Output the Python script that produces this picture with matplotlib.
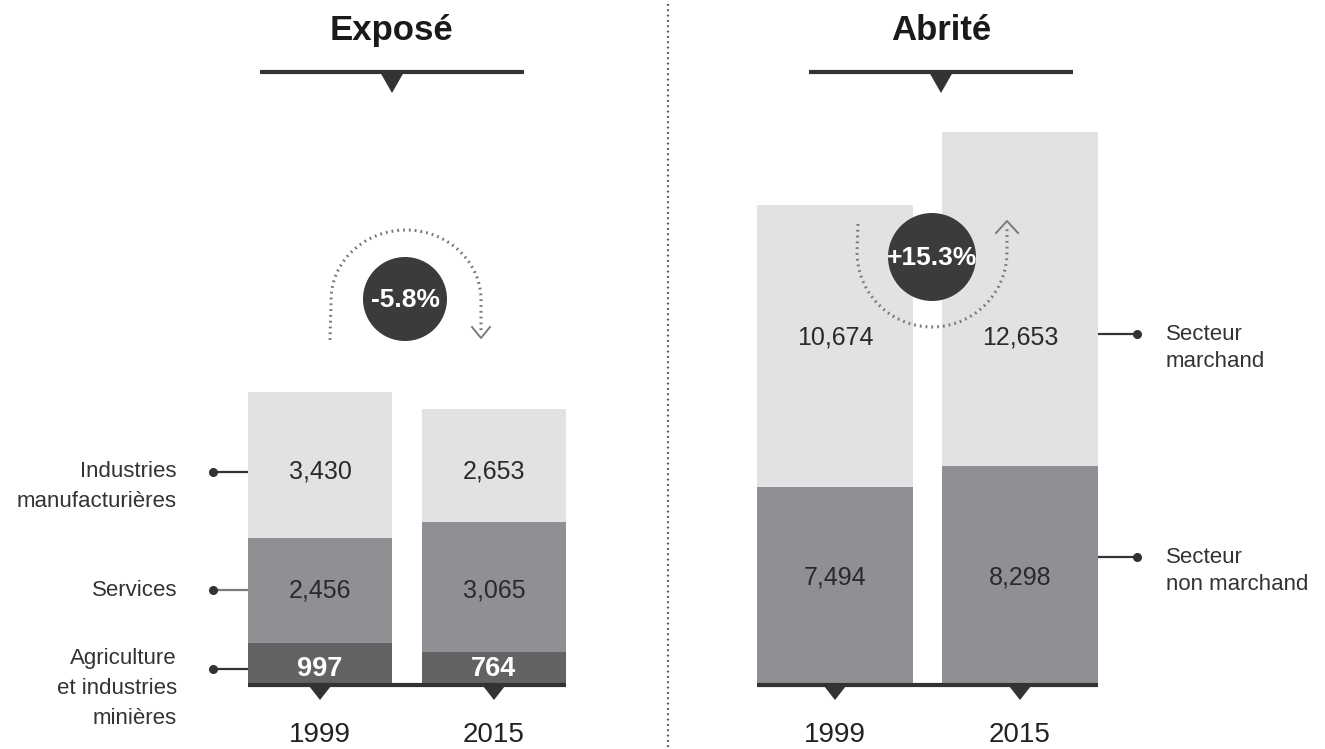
import numpy as np
import matplotlib
matplotlib.use("Agg")
import matplotlib.pyplot as plt
from matplotlib.patches import Circle, Polygon

plt.rcParams['font.family'] = ['Liberation Sans', 'DejaVu Sans']

# data
years = ['1999', '2015']
expose_agri = [997, 764]
expose_services = [2456, 3065]
expose_industries = [3430, 2653]
expose_labels = ['Agriculture\net industries\nminières', 'Services', 'Industries\nmanufacturières']
expose_change = '-5.8%'

abrite_non_marchand = [7494, 8298]
abrite_marchand = [10674, 12653]
abrite_labels = ['Secteur\nnon marchand', 'Secteur\nmarchand']
abrite_change = '+15.3%'

LIGHT = '#e1e2e4'
MID = '#8f9094'
DARK = '#636366'
INK = '#333333'
BADGE = '#3b3b3d'
DOTS = '#7a7a7a'

W, H = 1325, 749
BASE = 685
fig = plt.figure(figsize=(W / 100, H / 100), dpi=100)

# overlay in pixel coordinates (y downwards) for decorations
ov = fig.add_axes([0, 0, 1, 1], zorder=5)
ov.set_xlim(0, W)
ov.set_ylim(H, 0)
ov.axis('off')
ov.patch.set_alpha(0)


def bar_axes(left_px, right_px, centers_px, width_px, px_per_unit):
    top_px = 100
    ax = fig.add_axes([left_px / W, (H - BASE) / H,
                       (right_px - left_px) / W, (BASE - top_px) / H])
    unit = centers_px[1] - centers_px[0]
    ax.set_xlim((left_px - centers_px[0]) / unit, (right_px - centers_px[0]) / unit)
    ax.set_ylim(0, (BASE - top_px) / px_per_unit)
    ax.axis('off')
    return ax, width_px / unit


def to_px(ax, xv, yv):
    px, py = ax.transData.transform((xv, yv))
    return px, H - py


def finish_axis(ax, width):
    x = np.arange(len(years))
    ax.plot([x[0] - width / 2, x[-1] + width / 2], [0, 0], color=INK, lw=3,
            solid_capstyle='butt', clip_on=False, zorder=4)
    for xi, yr in zip(x, years):
        px, py = to_px(ax, xi, 0)
        ov.text(px, py + 50, yr, ha='center', va='center', fontsize=20, color='#222222')
        ov.add_patch(Polygon([[px - 11, py + 1], [px + 11, py + 1], [px, py + 15]],
                             closed=True, color=INK, lw=0))


def pointer(x_bar, x_dot, y, color):
    ov.plot([x_bar, x_dot], [y, y], color=color, lw=1.6, solid_capstyle='butt')
    ov.plot([x_dot], [y], 'o', color=INK, ms=5.5)


def label_lines(x, y, text, ha, spacing):
    for i, line in enumerate(text.split('\n')):
        ov.text(x, y + i * spacing, line, ha=ha, va='center', fontsize=16, color=INK)


x = np.arange(len(years))

# ---------------- Exposé ----------------
ax1, w1 = bar_axes(200, 610, (320, 494), 144, 0.0426)
b1 = np.zeros(2)
segments = [(expose_agri, DARK), (expose_services, MID), (expose_industries, LIGHT)]
for vals, col in segments:
    ax1.bar(x, vals, w1, bottom=b1, color=col, lw=0)
    b1 = b1 + np.array(vals)
finish_axis(ax1, w1)

bottom = 0
nudges = [5, 0, 7]            # rows sit a little below the segment centre
first_line = [-10, 0, 0]      # first text line relative to the pointer dot
for (vals, col), lab, nd, fl in zip(segments, expose_labels, nudges, first_line):
    ymid = bottom + vals[0] / 2
    bottom += vals[0]
    white = col == DARK
    _, y_px = to_px(ax1, 0, ymid)
    y_px += nd
    for xi, v in zip(x, vals):
        px, _ = to_px(ax1, xi, 0)
        ov.text(px, y_px, f'{v:,}', ha='center', va='center', zorder=3,
                fontsize=19.5 if white else 18, color='white' if white else '#2a2a2a',
                fontweight='bold' if white else 'normal')
    x_edge, _ = to_px(ax1, -w1 / 2, 0)
    pointer(x_edge, 213, y_px, INK if col != MID else '#7a7a7a')
    label_lines(177, y_px + fl, lab, 'right', 30)

# ---------------- Abrité ----------------
ax2, w2 = bar_axes(700, 1325, (835, 1020), 156, 0.0264)
b2 = np.zeros(2)
segments2 = [(abrite_non_marchand, MID), (abrite_marchand, LIGHT)]
for vals, col in segments2:
    ax2.bar(x, vals, w2, bottom=b2, color=col, lw=0)
    b2 = b2 + np.array(vals)
finish_axis(ax2, w2)

bottom = 0
pointer_dy = [-29, -12]       # pointer sits above the segment centre
for (vals, col), lab, pdy in zip(segments2, abrite_labels, pointer_dy):
    ymid = bottom + vals[0] / 2
    bottom += vals[0]
    _, y_px = to_px(ax2, 0, ymid)
    for xi, v in zip(x, vals):
        px, _ = to_px(ax2, xi, 0)
        ov.text(px, y_px - 9, f'{v:,}', ha='center', va='center', fontsize=18,
                color='#2a2a2a', zorder=3)
    x_edge, _ = to_px(ax2, 1 + w2 / 2, 0)
    pointer(x_edge, 1137, y_px + pdy, INK)
    label_lines(1166, y_px + pdy, lab, 'left', 27)

# ---------------- decorations ----------------
for cx, title in [(392, 'Exposé'), (941, 'Abrité')]:
    ov.text(cx, 40, title, ha='center', va='baseline', fontsize=25, fontweight='bold', color='#1a1a1a')
    ov.plot([cx - 132, cx + 132], [72, 72], color=INK, lw=3, solid_capstyle='butt')
    ov.add_patch(Polygon([[cx - 12, 72], [cx + 12, 72], [cx, 93]], closed=True, color=INK, lw=0))

# vertical divider
ov.plot([668, 668], [4, 749], color='#555555', lw=1.6, linestyle=(0, (0.8, 1.6)))

# change badges with dotted arcs
t = np.linspace(0, np.pi, 200)
arc_x = np.concatenate([[330], 406 - 75 * np.cos(t), [481]])
arc_y = np.concatenate([[340], 300 - 70 * np.sin(t), [334]])
ov.plot(arc_x, arc_y, color=DOTS, lw=2.2, linestyle=(0, (0.6, 1.3)))
ov.plot([472, 481, 490], [327, 338, 327], color=DOTS, lw=1.4)
ov.add_patch(Circle((405, 299), 42, color=BADGE, lw=0, zorder=6))
ov.text(405, 300, expose_change, ha='center', va='center', fontsize=19, fontweight='bold',
        color='white', zorder=7)

arc_x = np.concatenate([[858], 932 - 75 * np.cos(t), [1007]])
arc_y = np.concatenate([[224], 252 + 75 * np.sin(t), [226]])
ov.plot(arc_x, arc_y, color=DOTS, lw=2.2, linestyle=(0, (0.6, 1.3)))
ov.plot([996, 1007, 1018], [233, 221, 233], color=DOTS, lw=1.4)
ov.add_patch(Circle((932, 257), 44, color=BADGE, lw=0, zorder=6))
ov.text(932, 258, abrite_change, ha='center', va='center', fontsize=19, fontweight='bold',
        color='white', zorder=7)

fig.savefig('out.png', dpi=100, facecolor='white')
